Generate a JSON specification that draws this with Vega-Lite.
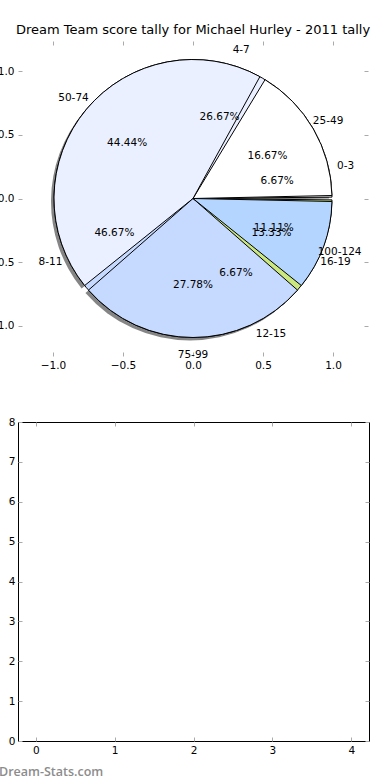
{
  "$schema": "https://vega.github.io/schema/vega-lite/v6.json",
  "background": "white",
  "padding": {"left": -12, "top": 23, "right": 0, "bottom": 0},
  "bounds": "flush",
  "spacing": 66,
  "datasets": {
    "pie1": [
      {"i": 1, "label": "0-3", "n": 1, "pct": "6.67%"},
      {"i": 2, "label": "4-7", "n": 4, "pct": "26.67%"},
      {"i": 3, "label": "8-11", "n": 7, "pct": "46.67%"},
      {"i": 4, "label": "12-15", "n": 1, "pct": "6.67%"},
      {"i": 5, "label": "16-19", "n": 2, "pct": "13.33%"}
    ],
    "pie2": [
      {"i": 1, "label": "25-49", "n": 3, "pct": "16.67%"},
      {"i": 2, "label": "50-74", "n": 8, "pct": "44.44%"},
      {"i": 3, "label": "75-99", "n": 5, "pct": "27.78%"},
      {"i": 4, "label": "100-124", "n": 2, "pct": "11.11%"}
    ]
  },
  "config": {
    "font": "DejaVu Sans",
    "axis": {"labelFont": "DejaVu Sans", "labelFontSize": 10.5, "labelColor": "black", "grid": false, "domain": false, "tickColor": "#aaaaaa", "tickSize": -4, "title": null, "labelFlush": false, "labelOverlap": false}
  },
  "vconcat": [
    {
      "width": 350,
      "height": 315,
      "view": {"stroke": null},
      "title": {"text": "Dream Team score tally for Michael Hurley - 2011 tally", "font": "DejaVu Sans", "fontSize": 13, "fontWeight": "normal", "color": "black", "anchor": "middle", "frame": "group", "offset": 4},
      "layer": [
        {
          "data": {"values": []},
          "mark": "point",
          "encoding": {
            "x": {"field": "x", "type": "quantitative", "scale": {"domain": [-1.25, 1.25], "nice": false, "zero": false}, "axis": {"orient": "bottom", "values": [-1, -0.5, 0, 0.5, 1], "format": ".1f", "labelPadding": 8}},
            "y": {"field": "y", "type": "quantitative", "scale": {"domain": [-1.24, 1.24], "nice": false, "zero": false}, "axis": {"orient": "left", "values": [-1, -0.5, 0, 0.5, 1], "format": ".1f", "labelPadding": 8}}
          }
        },
        {
          "data": {"values": []},
          "mark": "point",
          "encoding": {
            "x": {"field": "x", "type": "quantitative", "axis": {"orient": "top", "values": [-1, -0.5, 0, 0.5, 1], "labels": false}},
            "y": {"field": "y", "type": "quantitative", "axis": {"orient": "right", "values": [-1, -0.5, 0, 0.5, 1], "labels": false}}
          }
        },
        {
          "data": {"name": "pie2"},
          "mark": {"type": "arc", "radius": 139, "padAngle": 0.043, "fill": "#333333", "opacity": 0.6, "xOffset": -3, "yOffset": 3},
          "encoding": {
            "theta": {"field": "n", "type": "quantitative", "stack": true, "scale": {"range": [1.5708, -4.7124]}},
            "order": {"field": "i"}
          }
        },
        {
          "data": {"name": "pie1"},
          "mark": {"type": "arc", "radius": 139, "padAngle": 0.02, "stroke": "black", "strokeWidth": 1},
          "encoding": {
            "theta": {"field": "n", "type": "quantitative", "stack": true, "scale": {"range": [1.5708, -4.7124]}},
            "order": {"field": "i"},
            "color": {"field": "label", "type": "nominal", "legend": null, "scale": {"domain": ["0-3", "4-7", "8-11", "12-15", "16-19", "25-49", "50-74", "75-99", "100-124"], "range": ["#ffffff", "#eaf0ff", "#c6d9ff", "#b4d5ff", "#cae87e", "#ffffff", "#eaf0ff", "#c6d9ff", "#b4d5ff"]}}
          }
        },
        {
          "data": {"name": "pie2"},
          "mark": {"type": "arc", "radius": 139, "padAngle": 0.043, "stroke": "black", "strokeWidth": 1},
          "encoding": {
            "theta": {"field": "n", "type": "quantitative", "stack": true, "scale": {"range": [1.5708, -4.7124]}},
            "order": {"field": "i"},
            "color": {"field": "label", "type": "nominal", "legend": null}
          }
        },
        {
          "data": {"name": "pie1"},
          "mark": {"type": "text", "radius": 156, "fontSize": 10.5, "color": "black"},
          "encoding": {
            "theta": {"field": "n", "type": "quantitative", "stack": true, "scale": {"range": [1.5708, -4.7124]}},
            "order": {"field": "i"},
            "text": {"field": "label"}
          }
        },
        {
          "data": {"name": "pie1"},
          "mark": {"type": "text", "radius": 86, "fontSize": 10.5, "color": "black"},
          "encoding": {
            "theta": {"field": "n", "type": "quantitative", "stack": true, "scale": {"range": [1.5708, -4.7124]}},
            "order": {"field": "i"},
            "text": {"field": "pct"}
          }
        },
        {
          "data": {"name": "pie2"},
          "mark": {"type": "text", "radius": 156, "fontSize": 10.5, "color": "black"},
          "encoding": {
            "theta": {"field": "n", "type": "quantitative", "stack": true, "scale": {"range": [1.5708, -4.7124]}},
            "order": {"field": "i"},
            "text": {"field": "label"}
          }
        },
        {
          "data": {"name": "pie2"},
          "mark": {"type": "text", "radius": 86, "fontSize": 10.5, "color": "black"},
          "encoding": {
            "theta": {"field": "n", "type": "quantitative", "stack": true, "scale": {"range": [1.5708, -4.7124]}},
            "order": {"field": "i"},
            "text": {"field": "pct"}
          }
        }
      ],
      "resolve": {"scale": {"theta": "independent"}, "axis": {"x": "independent", "y": "independent"}}
    },
    {
      "width": 351,
      "height": 319,
      "view": {"stroke": "black", "strokeWidth": 1},
      "title": {"text": "Dream-Stats.com", "orient": "bottom", "anchor": "start", "frame": "group", "dx": -19, "font": "Open Sans", "fontSize": 12.5, "fontWeight": 600, "color": "#8c8c8c", "offset": 10},
      "layer": [
        {
          "data": {"values": []},
          "mark": "point",
          "encoding": {
            "x": {"field": "x", "type": "quantitative", "scale": {"domain": [-0.225, 4.225], "nice": false, "zero": false}, "axis": {"orient": "bottom", "values": [0, 1, 2, 3, 4], "format": "d", "labelPadding": 8}},
            "y": {"field": "y", "type": "quantitative", "scale": {"domain": [0, 8], "nice": false, "zero": false}, "axis": {"orient": "left", "values": [0, 1, 2, 3, 4, 5, 6, 7, 8], "format": "d", "labelPadding": 7}}
          }
        },
        {
          "data": {"values": []},
          "mark": "point",
          "encoding": {
            "x": {"field": "x", "type": "quantitative", "axis": {"orient": "top", "values": [0, 1, 2, 3, 4], "labels": false}},
            "y": {"field": "y", "type": "quantitative", "axis": {"orient": "right", "values": [0, 1, 2, 3, 4, 5, 6, 7, 8], "labels": false}}
          }
        }
      ],
      "resolve": {"axis": {"x": "independent", "y": "independent"}}
    }
  ]
}
